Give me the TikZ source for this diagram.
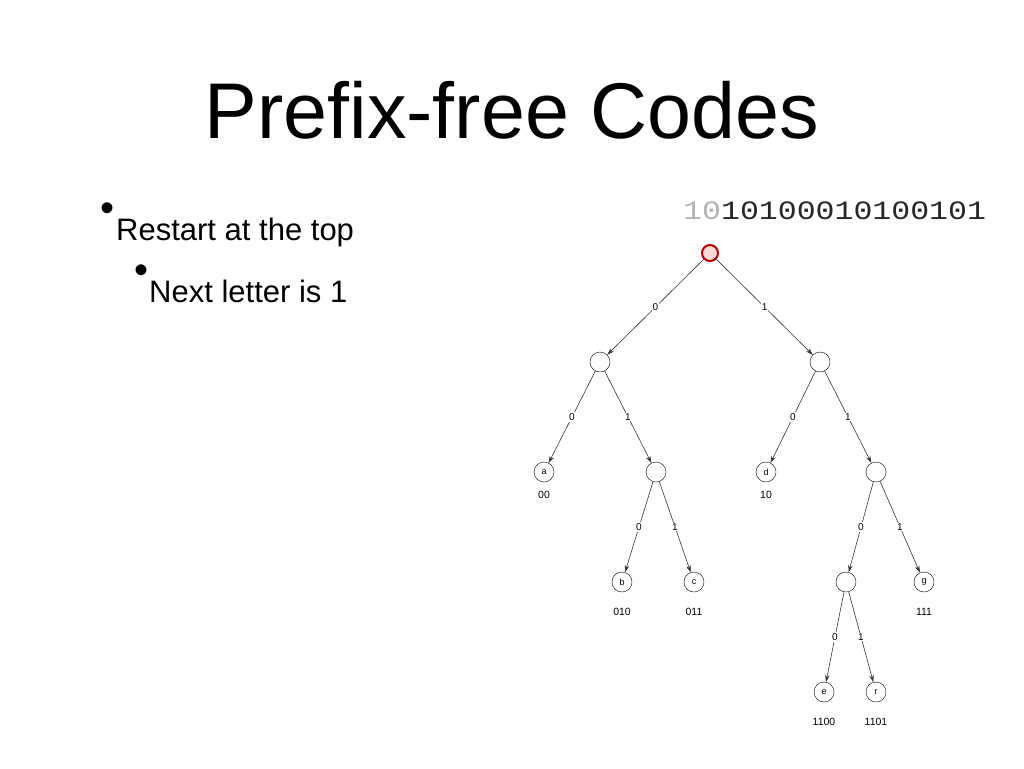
\documentclass[tikz,border=0pt]{standalone}
\usepackage{fontspec}
\setmainfont{Liberation Sans}
\newfontfamily\codefont{Liberation Mono}
\usetikzlibrary{arrows.meta}
\begin{document}
\begin{tikzpicture}[x=1pt,y=-1pt,every node/.style={inner sep=1pt},
  vert/.style={draw,circle,minimum size=20pt,inner sep=0pt,font=\fontsize{9}{9}\selectfont},
  edge/.style={-{Stealth[length=7pt,width=4.5pt]},semithick,black!80},
  bit/.style={fill=white,text=black,font=\fontsize{10}{10}\selectfont,pos=0.5},
  code/.style={font=\fontsize{10.5}{10.5}\selectfont}]
\useasboundingbox (0,0) rectangle (1024,768);
\node (title) at (512,110) {\fontsize{79}{79}\selectfont Prefix-free Codes};
\node (b1) at (108,212) {\fontsize{40}{40}\selectfont\textbullet};
\node[anchor=base west] (t1) at (115,240) {\fontsize{31}{31}\selectfont Restart at the top};
\node (b2) at (141,274) {\fontsize{40}{40}\selectfont\textbullet};
\node[anchor=base west] (t2) at (148,302) {\fontsize{31}{31}\selectfont Next letter is 1};
\node[anchor=west,inner sep=0pt,xscale=1.19] (bits) at (683,211) {\fontsize{26.5}{26.5}\codefont\textcolor{black!30}{10}\textcolor{black!85}{10100010100101}};
% tree
\node[vert,draw=red!70!black,line width=2pt,minimum size=16pt,fill=red!15] (root) at (710,253) {};
\node[vert] (n0) at (600,362) {};
\node[vert] (n1) at (820,362) {};
\node[vert] (a) at (544,472) {a};
\node[vert] (n01) at (656,472) {};
\node[vert] (d) at (766,472) {d};
\node[vert] (n11) at (876,472) {};
\node[vert] (b) at (622,582) {b};
\node[vert] (c) at (694,582) {c};
\node[vert] (n110) at (846,582) {};
\node[vert] (g) at (924,582) {g};
\node[vert] (e) at (824,692) {e};
\node[vert] (r) at (876,692) {r};
\draw[edge] (root) -- node[bit] {0} (n0);
\draw[edge] (root) -- node[bit] {1} (n1);
\draw[edge] (n0) -- node[bit] {0} (a);
\draw[edge] (n0) -- node[bit] {1} (n01);
\draw[edge] (n1) -- node[bit] {0} (d);
\draw[edge] (n1) -- node[bit] {1} (n11);
\draw[edge] (n01) -- node[bit] {0} (b);
\draw[edge] (n01) -- node[bit] {1} (c);
\draw[edge] (n11) -- node[bit] {0} (n110);
\draw[edge] (n11) -- node[bit] {1} (g);
\draw[edge] (n110) -- node[bit] {0} (e);
\draw[edge] (n110) -- node[bit] {1} (r);
% codewords
\node[code] (ca) at (544,495) {00};
\node[code] (cd) at (766,495) {10};
\node[code] (cb) at (622,612) {010};
\node[code] (cc) at (694,612) {011};
\node[code] (cg) at (924,612) {111};
\node[code] (ce) at (824,722) {1100};
\node[code] (cr) at (876,722) {1101};
\end{tikzpicture}
\end{document}
